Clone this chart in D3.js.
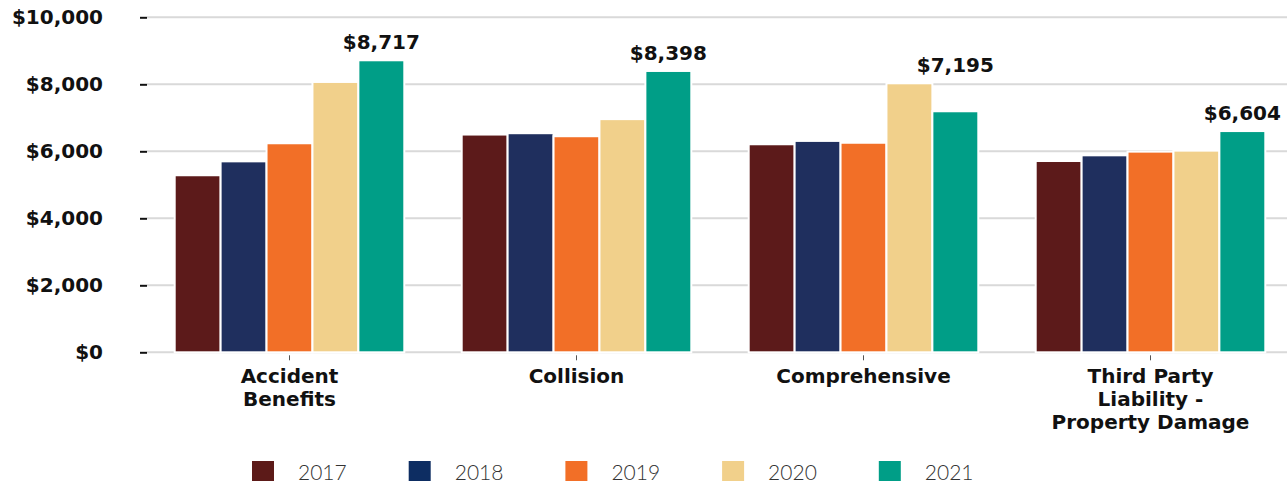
<!DOCTYPE html>
<html>
<head>
<meta charset="utf-8">
<script src="https://cdn.jsdelivr.net/npm/d3@7"></script>
<style>
	body { margin: 0; background: #fff; }
	svg { display: block; }
</style>
</head>
<body>
<div id="chart"></div>
<script>
'use strict'

var categories = ['Accident Benefits', 'Collision', 'Comprehensive', 'Third Party Liability - Property Damage'];
var categoryLines = [['Accident', 'Benefits'], ['Collision'], ['Comprehensive'], ['Third Party', 'Liability -', 'Property Damage']];
var years = ['2017', '2018', '2019', '2020', '2021'];
var values2017 = [5285, 6500, 6210, 5710];
var values2018 = [5700, 6540, 6310, 5880];
var values2019 = [6240, 6450, 6255, 5990];
var values2020 = [8070, 6960, 8030, 6020];
var values2021 = [8717, 8398, 7195, 6604];
var yTicks = [0, 2000, 4000, 6000, 8000, 10000];
var barColors = ['#5c1a1a', '#1f2f5e', '#f26f27', '#f1d08b', '#009e87'];
var legendColors = ['#5c1a18', '#0d2d62', '#f26f27', '#f1d08b', '#009e87'];

var series = [values2017, values2018, values2019, values2020, values2021];

var dims = { width: 1287, height: 486 };
var pad = { top: 17.3, left: 146, right: -7, bottom: 133.7 };

var svg = d3.select('#chart').append('svg')
	.attr('width', dims.width)
	.attr('height', dims.height);

var x = d3.scaleBand()
	.domain(categories)
	.range([pad.left, dims.width - pad.right])
	.paddingInner(0.2)
	.paddingOuter(0.1);

var xInner = d3.scaleBand()
	.domain(years)
	.range([0, x.bandwidth()]);

var y = d3.scaleLinear()
	.domain([0, 10000])
	.range([dims.height - pad.bottom, pad.top]);

// grid lines
svg.append('g')
	.selectAll('line')
	.data(yTicks)
	.enter().append('line')
	.attr('x1', pad.left + 1)
	.attr('x2', dims.width)
	.attr('y1', function(d) { return y(d); })
	.attr('y2', function(d) { return y(d); })
	.attr('stroke', '#d9d9d9')
	.attr('stroke-width', 2);

// y axis
var yAxis = d3.axisLeft(y)
	.tickValues(yTicks)
	.tickSize(7)
	.tickPadding(37)
	.tickFormat(function(d) { return '$' + d3.format(',')(d); });

var yG = svg.append('g')
	.attr('transform', 'translate(' + (pad.left + 1) + ',0)')
	.call(yAxis);
yG.select('.domain').remove();
yG.selectAll('line').attr('stroke', '#111').attr('stroke-width', 2);
yG.selectAll('text')
	.attr('font-family', 'DejaVu Sans')
	.attr('font-weight', 'bold')
	.attr('font-size', 20)
	.attr('fill', '#111');

// bars
var groups = svg.append('g')
	.selectAll('g')
	.data(categories)
	.enter().append('g')
	.attr('transform', function(d) { return 'translate(' + x(d) + ',0)'; });

groups.selectAll('rect')
	.data(function(d, i) {
		return years.map(function(yr, j) { return { year: yr, idx: j, value: series[j][i] }; });
	})
	.enter().append('rect')
	.attr('x', function(d) { return xInner(d.year); })
	.attr('width', xInner.bandwidth())
	.attr('y', function(d) { return y(d.value); })
	.attr('height', function(d) { return y(0) - y(d.value); })
	.attr('fill', function(d) { return barColors[d.idx]; })
	.attr('stroke', '#fff')
	.attr('stroke-width', 2);

// labels for 2021, placed above the tallest bar of each group
groups.append('text')
	.attr('x', xInner('2021') + xInner.bandwidth() / 2)
	.attr('y', function(d, i) {
		var maxVal = d3.max(series, function(s) { return s[i]; });
		return y(maxVal) - 11;
	})
	.attr('text-anchor', 'middle')
	.attr('font-family', 'DejaVu Sans')
	.attr('font-weight', 'bold')
	.attr('font-size', 20)
	.attr('fill', '#111')
	.text(function(d, i) { return '$' + d3.format(',')(values2021[i]); });

// x axis
var xG = svg.append('g')
	.attr('transform', 'translate(0,' + y(0) + ')');

xG.selectAll('line')
	.data(categories)
	.enter().append('line')
	.attr('x1', function(d) { return x(d) + x.bandwidth() / 2; })
	.attr('x2', function(d) { return x(d) + x.bandwidth() / 2; })
	.attr('y1', 3)
	.attr('y2', 8)
	.attr('stroke', '#555')
	.attr('stroke-width', 1);

xG.selectAll('text')
	.data(categories)
	.enter().append('text')
	.attr('x', function(d) { return x(d) + x.bandwidth() / 2; })
	.attr('y', 31)
	.attr('text-anchor', 'middle')
	.attr('font-family', 'DejaVu Sans')
	.attr('font-weight', 'bold')
	.attr('font-size', 20)
	.attr('fill', '#111')
	.each(function(d, i) {
		var t = d3.select(this);
		categoryLines[i].forEach(function(line, k) {
			t.append('tspan')
				.attr('x', x(d) + x.bandwidth() / 2)
				.attr('dy', k === 0 ? 0 : 23)
				.text(line);
		});
	});

// legend
var legend = svg.append('g')
	.attr('transform', 'translate(252,461)');

var item = legend.selectAll('g')
	.data(years)
	.enter().append('g')
	.attr('transform', function(d, i) { return 'translate(' + (i * 156.7) + ',0)'; });

item.append('rect')
	.attr('width', 22)
	.attr('height', 20)
	.attr('fill', function(d, i) { return legendColors[i]; });

item.append('text')
	.attr('x', 46)
	.attr('y', 19)
	.attr('font-family', 'Lato')
	.attr('font-weight', 300)
	.attr('font-size', 21)
	.attr('fill', '#333')
	.text(function(d) { return d; });
</script>
</body>
</html>
